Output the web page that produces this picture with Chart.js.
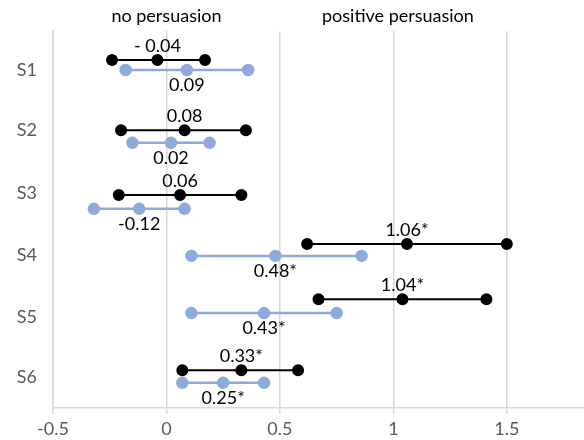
<!DOCTYPE html>
<html>
<head>
<meta charset="utf-8">
<script src="https://cdn.jsdelivr.net/npm/chart.js@4/dist/chart.umd.min.js"></script>
<style>
  html,body{margin:0;padding:0;background:#fff;}
  #wrap{width:584px;height:440px;position:relative;}
</style>
</head>
<body>
<div id="wrap"><canvas id="c" width="584" height="440"></canvas></div>
<script>
// ---- data ----
const categories = ['S1','S2','S3','S4','S5','S6'];
// black series (upper rows): lower bound, estimate, upper bound
const blackLow  = [-0.24, -0.20, -0.21, 0.62, 0.67, 0.07];
const blackMid  = [-0.04,  0.08,  0.06, 1.06, 1.04, 0.33];
const blackHigh = [ 0.17,  0.35,  0.33, 1.50, 1.41, 0.58];
const blackLabels = ['- 0.04','0.08','0.06','1.06*','1.04*','0.33*'];
// blue series (lower rows)
const blueLow  = [-0.18, -0.15, -0.32, 0.11, 0.11, 0.07];
const blueMid  = [ 0.09,  0.02, -0.12, 0.48, 0.43, 0.25];
const blueHigh = [ 0.36,  0.19,  0.08, 0.86, 0.75, 0.43];
const blueLabels = ['0.09','0.02','-0.12','0.48*','0.43*','0.25*'];
// vertical positions of the rows on the (reversed) y value axis
const blackY = [0.46, 1.58, 2.61, 3.39, 4.27, 5.40];
const blueY  = [0.62, 1.78, 2.83, 3.58, 4.49, 5.60];
const categoryY = [0.62, 1.58, 2.58, 3.57, 4.55, 5.51];
const xTicks = [-0.5, 0, 0.5, 1, 1.5];
const headings = [{text:'no persuasion', at:0}, {text:'positive persuasion', at:1.02}];

const BLACK = '#000000';
const BLUE = '#8EA9DB';
const FONT = 'Lato, "Open Sans", sans-serif';
const FS = 18;

const datasets = [];
categories.forEach((cat, i) => {
  datasets.push({
    label: cat + ' black',
    data: [{x:blackLow[i], y:blackY[i]}, {x:blackMid[i], y:blackY[i]}, {x:blackHigh[i], y:blackY[i]}],
    showLine: true, borderColor: BLACK, backgroundColor: BLACK,
    borderWidth: 2, pointRadius: 5, pointHoverRadius: 5
  });
  datasets.push({
    label: cat + ' blue',
    data: [{x:blueLow[i], y:blueY[i]}, {x:blueMid[i], y:blueY[i]}, {x:blueHigh[i], y:blueY[i]}],
    showLine: true, borderColor: BLUE, backgroundColor: BLUE,
    borderWidth: 2.5, pointRadius: 5, pointHoverRadius: 5
  });
});

const labelPlugin = {
  id: 'labels',
  afterDatasetsDraw(chart) {
    const ctx = chart.ctx;
    const xs = chart.scales.x, ys = chart.scales.y;
    ctx.save();
    ctx.font = FS + 'px ' + FONT;
    ctx.fillStyle = '#000';
    ctx.textAlign = 'center';
    ctx.textBaseline = 'middle';
    categories.forEach((c, i) => {
      ctx.fillText(blackLabels[i], xs.getPixelForValue(blackMid[i]), ys.getPixelForValue(blackY[i]) - 14);
      ctx.fillText(blueLabels[i], xs.getPixelForValue(blueMid[i]), ys.getPixelForValue(blueY[i]) + 15);
    });
    headings.forEach(h => {
      ctx.fillText(h.text, xs.getPixelForValue(h.at), 16);
    });
    ctx.restore();
  }
};

new Chart(document.getElementById('c'), {
  type: 'scatter',
  data: { datasets },
  options: {
    responsive: false,
    animation: false,
    clip: false,
    layout: { autoPadding: false, padding: { top: 31, right: 0, left: 0, bottom: 0 } },
    plugins: { legend: { display: false }, tooltip: { enabled: false } },
    scales: {
      x: {
        type: 'linear', min: -0.5, max: 1.84,
        afterBuildTicks(s) { s.ticks = xTicks.map(v => ({ value: v })); },
        afterFit(s) { s.height = 32; s.paddingLeft = 0; s.paddingRight = 0; },
        grid: { color: '#D9D9D9', lineWidth: 1.5, drawTicks: true, tickLength: 6, tickColor: '#D9D9D9' },
        border: { display: true, color: '#D9D9D9', width: 1.5 },
        ticks: {
          color: '#595959', font: { family: FONT, size: FS }, padding: 4,
          maxRotation: 0, autoSkip: false,
          callback: v => String(v)
        }
      },
      y: {
        type: 'linear', min: 0, max: 6, reverse: true,
        afterBuildTicks(s) { s.ticks = categoryY.map(v => ({ value: v })); },
        afterFit(s) { s.width = 53; s.paddingTop = 0; s.paddingBottom = 0; },
        grid: { display: false, drawTicks: false, tickLength: 0 },
        border: { display: true, color: '#D9D9D9', width: 1.5 },
        ticks: {
          color: '#595959', font: { family: FONT, size: FS }, padding: 16,
          autoSkip: false,
          callback: (v, i) => categories[i]
        }
      }
    }
  },
  plugins: [labelPlugin]
});
</script>
</body>
</html>
